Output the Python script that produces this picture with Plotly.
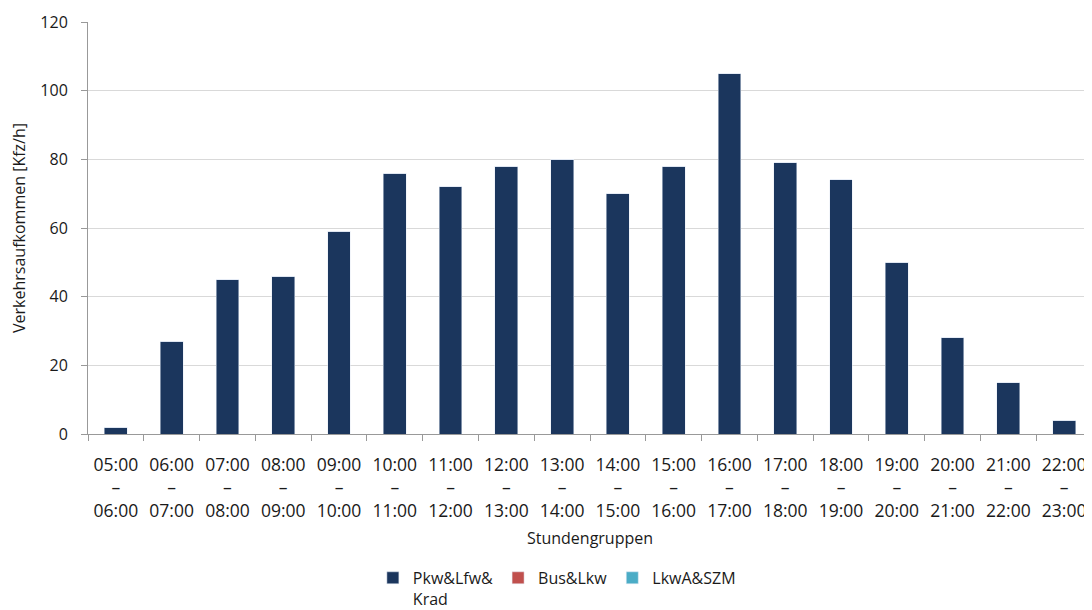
import plotly.graph_objects as go

categories = ["05:00", "06:00", "07:00", "08:00", "09:00", "10:00", "11:00", "12:00", "13:00",
              "14:00", "15:00", "16:00", "17:00", "18:00", "19:00", "20:00", "21:00", "22:00"]
ends = ["06:00", "07:00", "08:00", "09:00", "10:00", "11:00", "12:00", "13:00", "14:00",
        "15:00", "16:00", "17:00", "18:00", "19:00", "20:00", "21:00", "22:00", "23:00"]
pkw = [2, 27, 45, 46, 59, 76, 72, 78, 80, 70, 78, 105, 79, 74, 50, 28, 15, 4]
bus = [0] * 18
lkwa = [0] * 18

labels = [f"{a}<br>–<br>{b}" for a, b in zip(categories, ends)]

font = "Open Sans, Noto Sans, sans-serif"
fig = go.Figure()
fig.add_bar(x=labels, y=pkw, name="Pkw&Lfw&<br>Krad", marker_color="#1b365d")
fig.add_bar(x=labels, y=bus, name="Bus&Lkw", marker_color="#c0504d")
fig.add_bar(x=labels, y=lkwa, name="LkwA&SZM", marker_color="#4bacc6")

# page body adds an 8px offset, so the figure is sized to fit the window
fig.update_layout(
    barmode="stack", bargap=0.59,
    width=1084, height=602,
    margin=dict(l=80, r=0, t=14, b=176, autoexpand=False),
    plot_bgcolor="white", paper_bgcolor="white",
    font=dict(family=font, size=16, color="#1a1a1a"),
    legend=dict(orientation="h", x=0.467, xanchor="center", y=-0.308, yanchor="top",
                font=dict(size=16), valign="top", traceorder="normal",
                itemwidth=30, tracegroupgap=0),
    showlegend=True,
)
fig.update_xaxes(title=dict(text="Stundengruppen", font=dict(size=16), standoff=12),
                 automargin=False,
                 showline=True, linecolor="#999", linewidth=1,
                 ticks="outside", tickson="boundaries", ticklen=6, tickcolor="#999",
                 tickfont=dict(size=17.5), tickangle=0, ticklabelstandoff=15)
fig.update_yaxes(title=dict(text="Verkehrsaufkommen [Kfz/h]", font=dict(size=16), standoff=14),
                 automargin=False,
                 range=[0, 120], dtick=20, showline=True, linecolor="#999", linewidth=1,
                 ticks="outside", ticklen=6, tickcolor="#999", ticklabelstandoff=10,
                 gridcolor="#d9d9d9", zeroline=False, tickfont=dict(size=16))
fig.write_html("out.html")
